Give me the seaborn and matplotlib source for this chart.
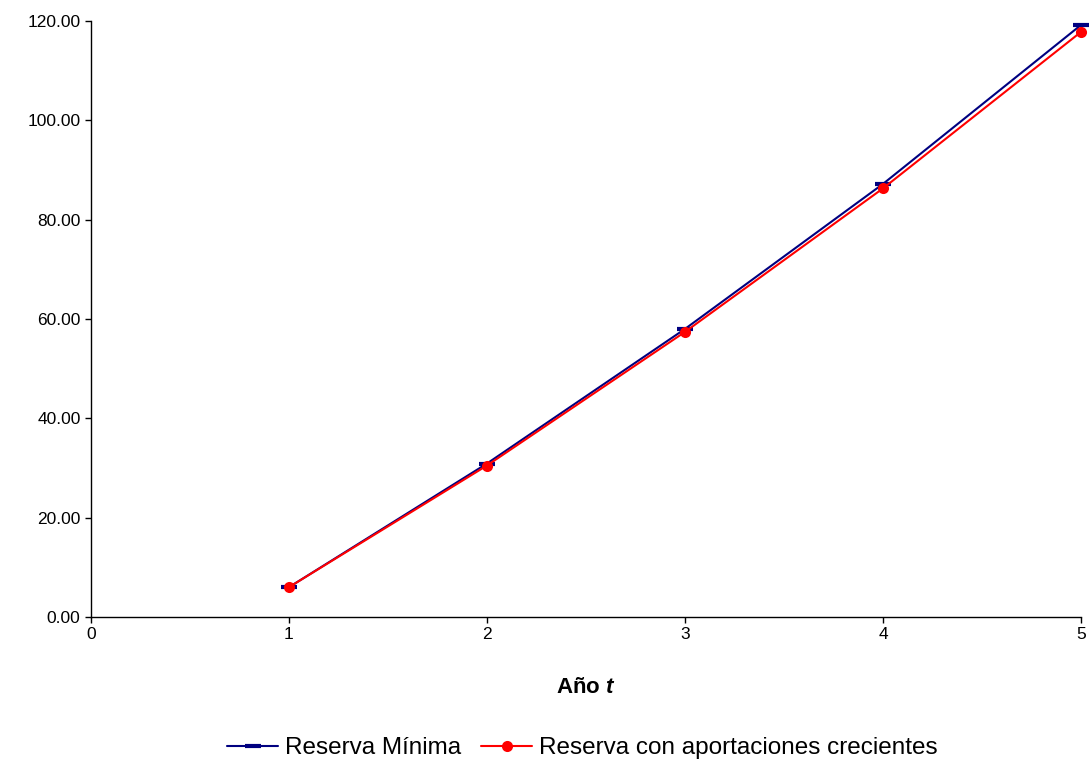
import matplotlib
matplotlib.use("Agg")
import matplotlib.pyplot as plt
from matplotlib.ticker import FormatStrFormatter
import seaborn as sb
import pandas as pd

# values
years = [1, 2, 3, 4, 5]
reserva_minima = [6.0, 30.9, 58.0, 87.2, 119.2]
reserva_crecientes = [6.0, 30.5, 57.4, 86.3, 117.8]
series_names = ["Reserva Mínima", "Reserva con aportaciones crecientes"]

df_min = pd.DataFrame({"t": years, "reserva": reserva_minima})
df_cre = pd.DataFrame({"t": years, "reserva": reserva_crecientes})

sb.set_style("white")
plt.rcParams['font.family'] = ['Liberation Sans', 'DejaVu Sans']
plt.rcParams['mathtext.fontset'] = 'custom'
plt.rcParams['mathtext.it'] = 'Liberation Sans:italic:bold'
plt.rcParams['text.color'] = 'black'

fig = plt.figure(figsize=(10.91, 7.62), dpi=100)
ax = fig.add_axes([0.0834, 0.1903, 0.9074, 0.7821])

sb.lineplot(data=df_min, x="t", y="reserva", color="#000080", marker="_",
            markersize=12, markeredgewidth=3, markeredgecolor="#000080",
            linewidth=1.5, label=series_names[0], ax=ax)
sb.lineplot(data=df_cre, x="t", y="reserva", color="#ff0000", marker="o",
            markersize=8, markeredgewidth=0, markeredgecolor="#ff0000",
            linewidth=1.5, label=series_names[1], ax=ax)
for line in ax.lines:
    line.set_clip_on(False)

ax.set_xlim(0, 5)
ax.set_ylim(0, 120)
ax.set_xticks([0, 1, 2, 3, 4, 5])
ax.set_yticks([0, 20, 40, 60, 80, 100, 120])
ax.yaxis.set_major_formatter(FormatStrFormatter('%.2f'))
ax.tick_params(axis='both', labelsize=12.5, direction='out', length=4, width=1, colors='black',
               bottom=True, left=True)
sb.despine(ax=ax, top=True, right=True)
for s in ["left", "bottom"]:
    ax.spines[s].set_color("black")
    ax.spines[s].set_linewidth(1)

ax.set_ylabel('')
ax.set_xlabel('Año $t$', fontsize=16, fontweight='bold', color='black')
ax.xaxis.set_label_coords(0.5, -0.1)

leg = ax.legend(loc='center', bbox_to_anchor=(0.534, 0.018), bbox_transform=fig.transFigure,
                ncol=2, frameon=False, fontsize=17.5, handlelength=2.1, handletextpad=0.3,
                columnspacing=0.8, borderpad=0)
for txt in leg.get_texts():
    txt.set_color('black')

plt.savefig('out.png', dpi=100)
